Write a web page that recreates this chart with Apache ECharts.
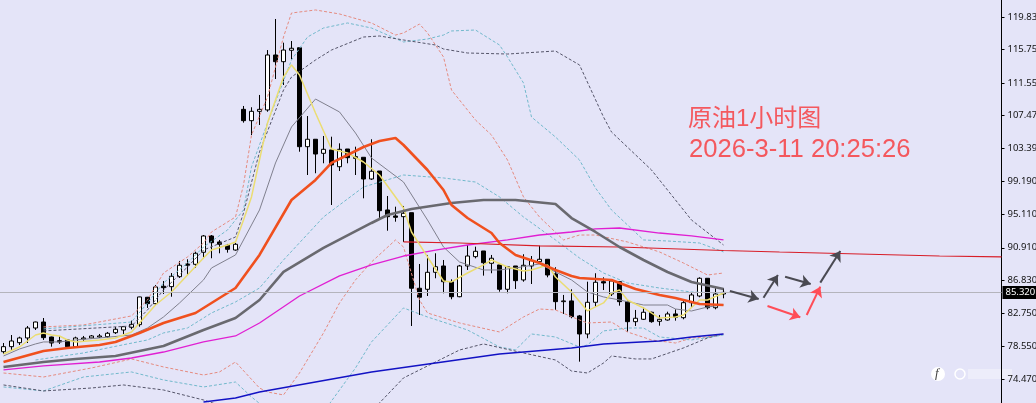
<!DOCTYPE html>
<html>
<head>
<meta charset="utf-8">
<title>原油1小时图</title>
<script src="https://cdn.jsdelivr.net/npm/echarts@6/dist/echarts.min.js"></script>
<style>
  html, body { margin: 0; padding: 0; background: #E4E4F8; }
  #main { width: 1036px; height: 403px; }
</style>
</head>
<body>
<div id="main"></div>
<script>
// 1小时K线
var opens = [77.89,78.52,79.02,79.61,80.86,81.61,79.73,79.27,79.36,78.52,79.48,79.61,79.73,79.77,80.27,80.61,80.95,81.28,84.71,83.91,
  86.09,86.04,87.29,88.88,88.84,90.35,92.39,91.64,91.22,90.63,108.26,106.84,108.01,108.18,115.07,114.23,115.66,115.98,103.58,104.51,
  102.75,103.17,101.07,103.29,102.33,102.25,99.53,100.53,95.65,94.90,94.81,95.31,85.84,85.71,87.84,88.63,86.66,84.78,88.63,89.80,
  90.51,88.97,88.76,85.71,88.63,86.88,88.63,89.17,89.47,87.63,84.16,84.25,82.37,80.11,84.08,86.66,85.12,86.66,84.16,81.65,
  81.95,82.83,81.70,81.86,82.62,82.15,84.03,84.87,87.09,83.40,85.12];
var closes = [78.52,79.23,79.61,80.86,81.61,79.65,78.98,79.11,78.52,79.61,79.61,79.86,79.86,80.20,80.70,81.02,81.32,84.75,83.91,86.00,
  85.91,87.34,88.72,88.72,90.22,92.39,91.55,91.35,90.72,91.35,106.84,108.01,108.26,115.07,114.23,115.69,115.91,103.58,104.51,102.66,
  103.25,101.29,103.25,102.20,102.12,99.53,100.50,95.56,94.81,94.73,95.23,85.84,84.71,87.84,88.54,86.66,84.78,88.63,89.88,90.47,
  89.04,89.60,85.71,88.54,86.79,88.72,89.29,89.47,87.50,84.16,84.25,82.28,80.11,84.08,86.59,86.50,86.75,84.16,81.65,82.08,
  82.83,81.65,81.95,82.62,82.20,84.03,85.00,87.09,83.40,85.12,85.32];
var lows = [77.60,78.10,78.73,78.98,80.61,79.36,78.52,78.86,78.48,78.52,79.14,79.48,79.61,79.65,80.11,80.11,80.70,81.02,83.37,83.74,
  85.12,84.78,87.13,87.50,88.38,89.72,89.60,90.22,90.30,90.55,106.59,105.04,106.30,107.96,112.06,111.31,114.53,102.95,100.03,100.25,
  101.50,96.27,100.53,101.50,100.03,97.11,99.41,94.64,93.05,94.18,91.64,81.11,82.49,84.87,87.09,85.21,84.46,84.71,88.13,89.59,
  87.42,87.72,85.41,85.21,85.75,86.66,86.37,88.88,87.21,83.12,82.62,82.08,76.64,79.57,83.53,85.62,84.87,83.66,80.40,81.11,
  81.86,81.52,81.15,81.78,81.78,81.95,83.45,84.71,83.20,83.20,84.58];
var highs = [78.98,79.98,79.77,81.11,81.65,82.11,79.77,79.86,79.48,79.77,79.86,79.98,80.11,80.36,80.99,81.11,81.78,84.78,84.75,86.25,
  86.75,87.75,89.26,89.47,90.42,92.51,92.51,91.89,91.39,91.51,108.68,108.52,110.06,115.69,119.58,116.61,116.82,115.98,107.42,104.51,
  104.92,104.83,104.00,103.29,103.58,102.25,104.51,100.53,97.40,96.06,96.15,95.31,88.88,90.01,90.22,89.38,86.96,88.76,91.26,91.05,
  90.51,90.01,88.76,88.63,88.63,90.10,89.88,91.17,89.47,88.47,85.00,85.71,82.49,86.66,87.72,87.21,86.96,86.66,84.37,83.12,
  83.45,82.90,82.49,82.90,83.20,84.37,85.28,87.21,87.09,85.84,85.84];

// 均线，[K线序号, 价格]
var maYellow = [[0,77.60],[2,78.48],[4,79.98],[5,80.24],[6,79.98],[7,79.86],[8,79.36],[9,79.11],[12,79.36],[14,79.61],[16,80.36],[17,81.49],[19,83.74],[21,85.37],[23,87.50],[25,89.63],[26,90.63],[28,91.26],[29,91.64],[30,94.39],[31,97.28],[33,106.55],[35,112.31],[36,113.82],[37,112.56],[39,107.80],[41,103.29],[43,102.79],[45,101.66],[47,100.03],[50,95.90],[51,92.89],[53,89.76],[55,86.75],[56,86.63],[58,87.75],[60,88.76],[61,89.38],[63,88.51],[65,88.00],[66,88.13],[68,88.76],[69,87.25],[71,85.37],[73,83.00],[75,84.00],[76,85.25],[77,85.62],[78,84.37],[80,83.37],[82,82.11],[84,82.24],[85,82.49],[87,84.37],[88,84.37],[90,85.25]];
var maThinGray = [[0,77.35],[2,78.23],[4,78.86],[5,79.11],[7,79.11],[9,79.36],[12,79.61],[16,79.98],[18,80.86],[20,82.24],[22,83.99],[25,86.88],[26,88.38],[29,90.01],[31,93.77],[32,95.65],[34,101.54],[36,106.05],[39,109.55],[42,107.93],[44,105.29],[46,102.16],[50,99.15],[53,94.39],[55,91.01],[57,89.13],[60,88.13],[62,88.13],[64,88.38],[67,88.88],[71,86.88],[73,85.37],[75,84.75],[77,84.37],[80,83.74],[83,83.74],[84,83.24],[86,82.99],[88,83.49],[90,83.74]];
var maOrange = [[0,76.60],[5,77.98],[8,78.36],[12,78.73],[14,79.11],[17,80.24],[20,81.49],[24,82.74],[26,83.99],[29,85.87],[32,90.01],[36,96.90],[39,99.41],[41,101.54],[43,102.54],[45,103.54],[47,104.29],[49,104.67],[50,103.79],[53,100.66],[55,98.15],[56,96.27],[58,94.64],[61,92.76],[62,91.51],[64,90.01],[67,89.00],[69,88.13],[71,87.38],[72,87.13],[76,86.88],[77,86.50],[79,85.75],[82,85.00],[84,84.62],[87,83.87],[90,83.74]];
var maGray = [[0,75.97],[5,76.60],[9,76.98],[14,77.35],[20,78.60],[25,80.61],[29,82.11],[32,84.37],[35,87.88],[40,90.89],[46,94.02],[48,95.02],[51,95.77],[56,96.52],[60,96.90],[64,96.90],[69,96.40],[71,94.64],[74,92.89],[77,91.01],[80,89.38],[83,87.88],[86,86.63],[90,85.75]];
var maMagenta = [[0,75.60],[5,76.10],[12,76.60],[16,77.10],[20,77.85],[25,79.11],[29,79.86],[32,81.49],[37,84.87],[42,87.38],[46,88.76],[50,89.88],[54,90.63],[58,91.26],[63,91.89],[67,92.51],[71,92.89],[74,93.27],[77,93.39],[82,92.76],[86,92.39],[90,91.89]];
var maBlue = [[25,71.59],[29,72.09],[32,72.84],[46,75.35],[54,76.47],[62,77.60],[71,78.36],[75,78.86],[82,79.23],[86,79.73],[90,80.11]];
var trendRed = [[50,91.64],[57,91.51],[67,91.14],[77,91.01],[90,90.57],[97,90.38],[107,90.13],[117,89.88],[124.75,89.76]];

// 布林带
var bandRedUp = [[5,80.99],[10,81.24],[16,82.37],[18,84.37],[20,87.75],[23,89.76],[25,91.51],[26,92.89],[29,94.77],[30,98.78],[31,105.04],[33,109.80],[35,117.32],[36,120.33],[39,120.71],[42,120.21],[46,119.08],[49,117.57],[50,117.83],[52,118.95],[53,117.83],[55,114.82],[56,110.68],[59,106.92],[61,105.04],[63,101.91],[65,97.28],[67,94.77],[70,91.89],[72,92.51],[74,92.51],[78,91.64],[82,90.39],[85,89.00],[88,87.50],[90,87.75]];
var bandCyanUp = [[5,80.74],[16,81.61],[18,83.99],[20,86.50],[23,89.00],[25,91.01],[28,93.14],[30,95.65],[31,101.04],[33,106.55],[36,114.44],[38,117.32],[40,118.45],[43,119.08],[46,118.45],[50,116.70],[53,117.07],[55,117.57],[56,118.08],[59,118.20],[62,116.32],[63,114.82],[65,111.56],[66,107.30],[69,104.79],[72,101.91],[74,98.40],[76,95.65],[80,91.89],[83,91.76],[87,91.51],[90,90.39]];
var bandDarkUp = [[5,80.49],[16,81.11],[18,83.12],[20,85.62],[23,88.50],[25,90.63],[29,92.26],[30,95.27],[32,102.91],[35,110.68],[36,112.31],[39,114.44],[41,115.69],[45,117.32],[47,117.45],[50,116.95],[54,116.32],[55,115.82],[58,115.32],[63,115.19],[69,115.57],[72,113.82],[75,107.30],[76,105.42],[81,100.66],[86,94.39],[90,91.26]];
var bandCyanMid = [[4,76.85],[10,77.73],[13,78.36],[18,79.36],[20,80.24],[23,80.86],[26,82.74],[29,84.12],[32,85.87],[35,89.38],[40,94.77],[45,98.53],[50,100.03],[55,99.66],[59,99.15],[62,97.28],[65,94.77],[69,91.89],[72,89.63],[75,87.75],[78,86.50],[82,85.87],[86,85.37],[90,85.25]];
var bandRedLow = [[0,75.22],[5,74.72],[11,75.85],[16,76.98],[20,75.98],[25,74.97],[27,75.35],[29,76.60],[32,73.34],[33,72.84],[35,72.47],[37,75.22],[40,80.24],[42,83.99],[44,86.88],[46,89.13],[49,91.89],[50,91.01],[52,84.37],[53,82.74],[57,81.49],[62,80.36],[65,82.24],[67,83.24],[69,83.12],[72,81.86],[73,81.49],[76,81.61],[78,80.36],[81,79.36],[84,78.98],[86,79.61],[88,79.73],[90,80.11]];
var bandCyanLow = [[0,73.47],[5,72.97],[10,74.72],[16,75.35],[20,74.35],[25,73.47],[29,74.09],[31,72.22],[33,70.59],[40,70.34],[41,71.71],[44,75.85],[46,79.11],[50,83.37],[53,82.24],[58,80.61],[62,78.48],[64,78.11],[66,80.11],[69,79.73],[72,78.48],[73,78.73],[75,80.49],[78,80.86],[80,80.86],[82,79.73],[86,79.36],[90,79.98]];
var bandDarkLow = [[0,73.72],[5,72.97],[11,73.34],[15,73.72],[20,73.09],[25,71.84],[28,70.84],[46,70.59],[47,71.47],[50,74.60],[53,76.10],[57,78.10],[60,78.86],[65,77.73],[69,76.85],[71,75.47],[73,75.22],[75,76.47],[76,77.35],[79,76.98],[81,76.98],[85,78.36],[88,79.61],[90,80.11]];

// 手画箭头 [起点序号, 起点价, 终点序号, 终点价]
var arrowsDark = [[90.8,85.50,94.4,84.50],[95.0,84.66,96.8,87.50],[97.7,87.29,100.9,86.37],[102.1,86.54,104.6,90.51]];
var arrowsRed = [[95.5,83.62,99.6,82.20],[100.4,82.49,102.1,86.04]];

var tickLabels = [119.83,115.75,111.55,107.47,103.39,99.19,95.11,90.91,86.83,82.75,78.55,74.47];
var lastPrice = 85.32;

var bars = opens.map(function(o, i) {
  return [i, o, closes[i], lows[i], highs[i]];
});

function lineSeries(data, color, width, dash) {
  return {
    type: 'line',
    data: data,
    symbol: 'none',
    silent: true,
    animation: false,
    lineStyle: { color: color, width: width, type: dash ? [3, 2] : 'solid' }
  };
}

function arrowMark(list, color) {
  return {
    silent: true,
    animation: false,
    symbol: ['none', 'arrow'],
    symbolSize: 10,
    label: { show: false },
    lineStyle: { color: color, width: 2, type: 'solid' },
    data: list.map(function(a) {
      return [{ coord: [a[0], a[1]] }, { coord: [a[2], a[3]] }];
    })
  };
}

var myChart = echarts.init(document.getElementById('main'));

var seriesList = [
  lineSeries(bandRedUp, '#E58B80', 1, true),
  lineSeries(bandRedLow, '#E58B80', 1, true),
  lineSeries(bandCyanUp, '#72B9CC', 1, true),
  lineSeries(bandCyanMid, '#72B9CC', 1, true),
  lineSeries(bandCyanLow, '#72B9CC', 1, true),
  lineSeries(bandDarkUp, '#55556A', 1, true),
  lineSeries(bandDarkLow, '#55556A', 1, true),
  {
    type: 'candlestick',
    data: bars,
    barWidth: 5,
    silent: true,
    animation: false,
    itemStyle: { color: '#fff', color0: '#000', borderColor: '#000', borderColor0: '#000', borderWidth: 1 },
    markLine: {
      silent: true,
      animation: false,
      symbol: 'none',
      lineStyle: { color: '#B4B4BC', width: 1, type: 'solid' },
      label: {
        position: 'end',
        distance: 1,
        formatter: lastPrice.toFixed(3),
        color: '#fff',
        backgroundColor: '#000',
        fontFamily: 'Noto Sans',
        fontSize: 9.5,
        padding: [2, 2, 1, 3]
      },
      data: [{ yAxis: lastPrice }]
    }
  },
  lineSeries(maThinGray, '#80808E', 1),
  lineSeries(maMagenta, '#E01FD2', 1.3),
  lineSeries(maBlue, '#1212C4', 1.4),
  lineSeries(trendRed, '#D81E28', 1.2),
  lineSeries(maYellow, '#EBDD72', 1.5),
  lineSeries(maGray, '#69696F', 2.6),
  lineSeries(maOrange, '#F0501E', 2.6)
];
seriesList[11].markLine = arrowMark(arrowsRed, '#FF4D57');
seriesList[13].markLine = arrowMark(arrowsDark, '#4A4A52');

var textFont = 'Liberation Sans, Noto Sans CJK SC';

var option = {
  backgroundColor: '#E4E4F8',
  animation: false,
  title: [
    { text: '原油1小时图', left: 683, top: 102, textStyle: { fontFamily: textFont, fontSize: 24, fontWeight: 'normal', color: '#F4585E' } },
    { text: '2026-3-11 20:25:26', left: 684, top: 132, textStyle: { fontFamily: textFont, fontSize: 25.6, fontWeight: 'normal', color: '#F4585E' } }
  ],
  grid: { left: 0, top: 0, width: 1001.5, height: 403, outerBoundsMode: 'none' },
  xAxis: { type: 'value', min: -0.4375, max: 124.75, show: false },
  yAxis: {
    type: 'value',
    position: 'right',
    min: 71.46,
    max: 121.96,
    splitLine: { show: false },
    axisLine: { show: true, onZero: false, lineStyle: { color: '#000' } },
    axisTick: { show: true, length: 3, lineStyle: { color: '#000' }, customValues: tickLabels },
    axisLabel: {
      margin: 6,
      color: '#111',
      fontFamily: 'Noto Sans',
      fontSize: 9.5,
      customValues: tickLabels,
      formatter: function(v) { return v.toFixed(3); }
    }
  },
  // 右下角水印
  graphic: [
    { type: 'circle', shape: { cx: 938, cy: 374, r: 7 }, style: { fill: '#fff' } },
    { type: 'text', x: 935, y: 367, style: { text: 'f', fill: '#444', font: 'italic 13px Liberation Serif' } },
    { type: 'circle', shape: { cx: 960, cy: 374, r: 5 }, style: { fill: 'none', stroke: '#fff', lineWidth: 1.5 } },
    { type: 'rect', shape: { x: 968, y: 369, width: 44, height: 10 }, style: { fill: 'rgba(255,255,255,0.35)' } }
  ],
  series: seriesList
};

myChart.setOption(option);
</script>
</body>
</html>
